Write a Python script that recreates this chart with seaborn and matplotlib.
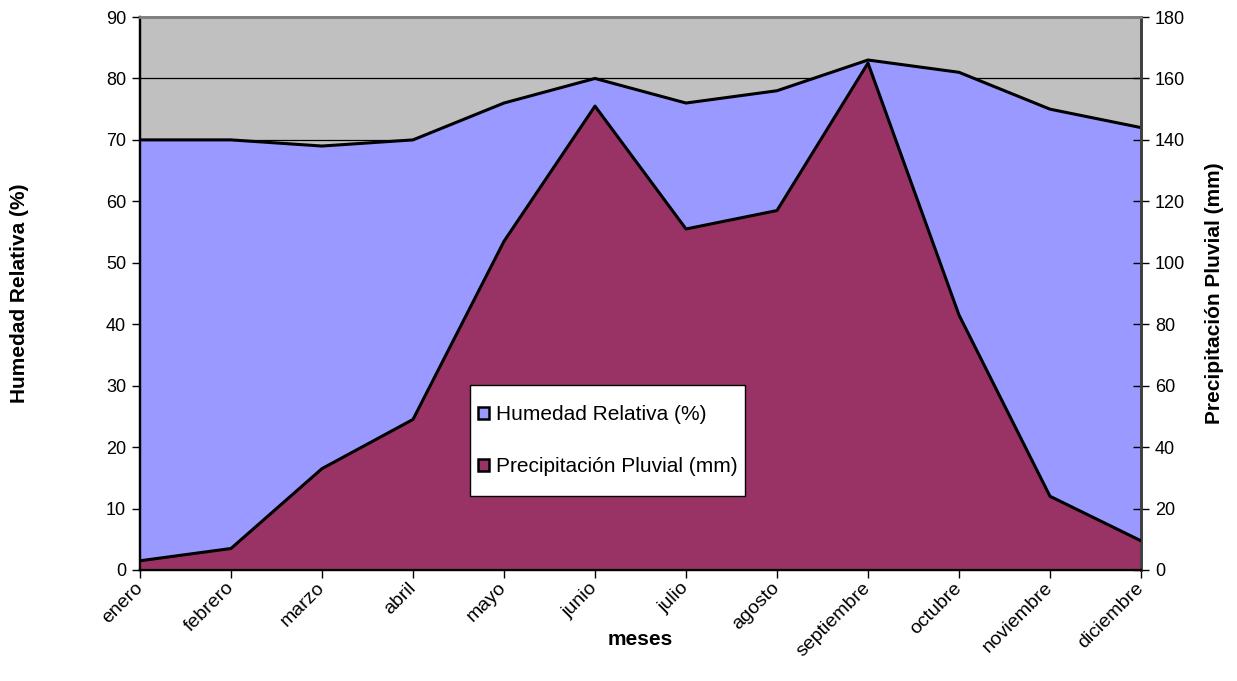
import matplotlib
matplotlib.use("Agg")
import matplotlib.pyplot as plt
from matplotlib.patches import Patch, Rectangle
from matplotlib.legend_handler import HandlerPatch
import seaborn as sns
import pandas as pd

meses = ["enero", "febrero", "marzo", "abril", "mayo", "junio", "julio",
         "agosto", "septiembre", "octubre", "noviembre", "diciembre"]
humedad = [70, 70, 69, 70, 76, 80, 76, 78, 83, 81, 75, 72]
precipitacion = [3, 7, 33, 49, 107, 151, 111, 117, 165, 83, 24, 9.5]

df = pd.DataFrame({"mes": meses, "x": range(len(meses)),
                   "humedad": humedad, "precipitacion": precipitacion})

sns.set_theme(style="white")
plt.rcParams["font.family"] = ["Liberation Sans", "DejaVu Sans"]
plt.rcParams["text.color"] = "black"
plt.rcParams["axes.labelcolor"] = "black"
plt.rcParams["xtick.color"] = "black"
plt.rcParams["ytick.color"] = "black"

AZUL = "#9999FF"
VINO = "#993366"
GRIS = "#C0C0C0"

W, H = 1237, 681
L, R, T, B = 140, 1141, 17, 570

fig = plt.figure(figsize=(W / 100, H / 100), dpi=100)
ax = fig.add_axes([L / W, 1 - B / H, (R - L) / W, (B - T) / H])
ax.set_facecolor(GRIS)

# Humedad relativa: área sobre el eje izquierdo
ax.fill_between(df["x"], df["humedad"], color=AZUL, zorder=2, linewidth=0)
sns.lineplot(data=df, x="x", y="humedad", ax=ax, color="black",
             linewidth=2.2, zorder=3, legend=False)
ax.set_xlim(0, len(meses) - 1)
ax.set_ylim(0, 90)
ax.set_yticks(range(0, 91, 10))
ax.yaxis.grid(True, color="black", linewidth=0.9)
ax.set_axisbelow(True)

# Precipitación pluvial: área sobre el eje derecho
ax2 = ax.twinx()
ax2.fill_between(df["x"], df["precipitacion"], color=VINO, zorder=2, linewidth=0)
sns.lineplot(data=df, x="x", y="precipitacion", ax=ax2, color="black",
             linewidth=2.2, zorder=3, legend=False)
ax2.set_ylim(0, 180)
ax2.set_yticks(range(0, 181, 20))
ax2.set_xlim(0, len(meses) - 1)

ax.set_xticks(df["x"])
ax.set_xticklabels(meses, rotation=45, ha="right", va="center",
                   rotation_mode="anchor", fontsize=14)
ax.tick_params(axis="x", direction="out", length=6, width=1, color="black",
               bottom=True, pad=5)
ax.tick_params(axis="y", direction="out", length=6, width=1, color="black",
               left=True, labelsize=13, pad=4)
ax2.tick_params(axis="y", direction="inout", length=12, width=1,
                color="black", right=True, labelsize=13, pad=4)

for a in (ax, ax2):
    for s in a.spines.values():
        s.set_visible(True)
    a.spines["left"].set_color("black")
    a.spines["left"].set_linewidth(1.6)
    a.spines["bottom"].set_color("black")
    a.spines["bottom"].set_linewidth(1.6)
    a.spines["top"].set_color("#808080")
    a.spines["top"].set_linewidth(2)
    a.spines["right"].set_color("#404040")
    a.spines["right"].set_linewidth(2)
    a.set_xlabel("")
    a.set_ylabel("")

ax.set_ylabel("Humedad Relativa (%)", fontsize=15, fontweight="bold")
ax.yaxis.set_label_coords((29 - L) / (R - L), 0.5)
ax2.set_ylabel("Precipitación Pluvial (mm)", fontsize=15, fontweight="bold")
ax2.yaxis.set_label_coords((1205 - L) / (R - L), 0.5)
ax.set_xlabel("meses", fontsize=15, fontweight="bold")
ax.xaxis.set_label_coords((640 - L) / (R - L), (B - 630) / (B - T))


# Small square swatch centred on the text's mid height
def swatch(legend, orig_handle, xdescent, ydescent, width, height, fontsize):
    s = 8.4
    xc = width / 2 - xdescent
    yc = 0.36 * fontsize
    return Rectangle((xc - s / 2, yc - s / 2), s, s)


handles = [Patch(facecolor=AZUL, edgecolor="black", linewidth=1.8),
           Patch(facecolor=VINO, edgecolor="black", linewidth=1.8)]
leg = ax2.legend(handles, ["Humedad Relativa (%)", "Precipitación Pluvial (mm)"],
                 handler_map={Patch: HandlerPatch(patch_func=swatch)},
                 loc="upper left",
                 bbox_to_anchor=((470 - L) / (R - L), (B - 385) / (B - T)),
                 fontsize=15, frameon=True, fancybox=False, framealpha=1,
                 edgecolor="black", handlelength=0.62, handleheight=2.9,
                 handletextpad=0.3, labelspacing=0.37, borderpad=0.34,
                 borderaxespad=0)
leg.get_frame().set_linewidth(1)

fig.savefig("out.png", dpi=100)
